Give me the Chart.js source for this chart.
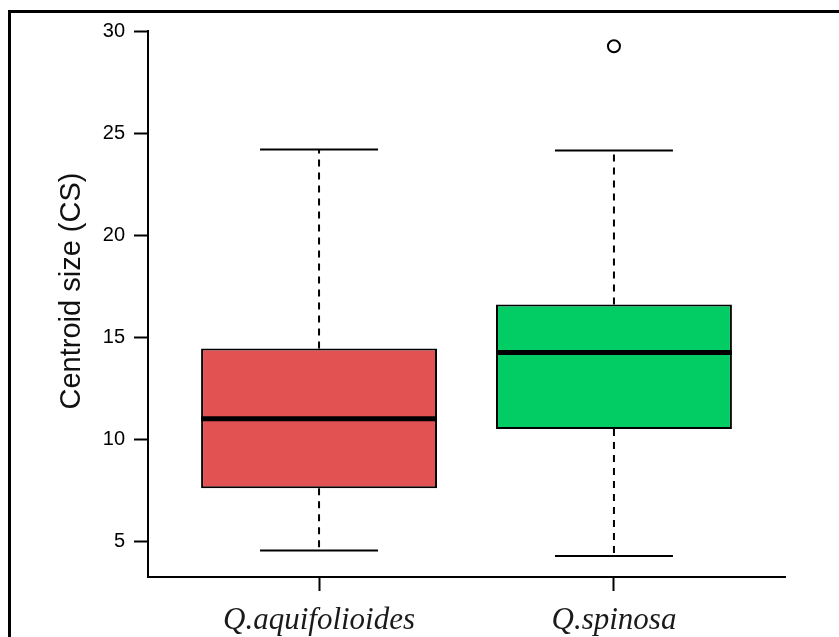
<!DOCTYPE html>
<html>
<head>
<meta charset="utf-8">
<script src="https://cdn.jsdelivr.net/npm/chart.js@4"></script>
<style>
  html, body { margin: 0; padding: 0; background: #fff; }
  #wrap { width: 839px; height: 637px; }
</style>
</head>
<body>
<div id="wrap"><canvas id="myChart" width="839" height="637"></canvas></div>
<script>
// box plot summary per species
const species = ["Q.aquifolioides", "Q.spinosa"];
const positions = [1, 2];
const lowWhisker = [4.55, 4.28];
const q1 = [7.6, 10.5];
const median = [11.0, 14.25];
const q3 = [14.45, 16.6];
const highWhisker = [24.2, 24.15];
const outliers = [{ x: 2, y: 29.25 }];
const boxColors = ["#e35252", "#02cc64"];
const yTicks = [5, 10, 15, 20, 25, 30];

const boxes = positions.map((p, i) => ({ x: p, y: [q1[i], q3[i]] }));

// whiskers, caps and the thick median line
const boxExtras = {
  id: "boxExtras",
  afterDatasetsDraw(chart) {
    const ctx = chart.ctx;
    const xs = chart.scales.x;
    const ys = chart.scales.y;
    ctx.save();
    ctx.strokeStyle = "#000";
    positions.forEach((p, i) => {
      const cx = xs.getPixelForValue(p);
      // dashed whiskers
      ctx.lineWidth = 2;
      ctx.setLineDash([7, 6]);
      ctx.beginPath();
      ctx.moveTo(cx, ys.getPixelForValue(q3[i]));
      ctx.lineTo(cx, ys.getPixelForValue(highWhisker[i]));
      ctx.moveTo(cx, ys.getPixelForValue(q1[i]));
      ctx.lineTo(cx, ys.getPixelForValue(lowWhisker[i]));
      ctx.stroke();
      // caps
      ctx.setLineDash([]);
      ctx.beginPath();
      [highWhisker[i], lowWhisker[i]].forEach((v) => {
        const y = ys.getPixelForValue(v);
        ctx.moveTo(xs.getPixelForValue(p - 0.2), y);
        ctx.lineTo(xs.getPixelForValue(p + 0.2), y);
      });
      ctx.stroke();
      // median
      ctx.lineWidth = 5;
      ctx.beginPath();
      const my = ys.getPixelForValue(median[i]);
      ctx.moveTo(xs.getPixelForValue(p - 0.4), my);
      ctx.lineTo(xs.getPixelForValue(p + 0.4), my);
      ctx.stroke();
    });
    ctx.restore();
  },
};

// outer frame (left and top edges) and the y axis title
const frameAndTitle = {
  id: "frameAndTitle",
  beforeDraw(chart) {
    const ctx = chart.ctx;
    ctx.save();
    ctx.fillStyle = "#000";
    ctx.fillRect(8, 10, 839, 3);
    ctx.fillRect(8, 10, 3, 637);
    ctx.restore();
  },
  afterDraw(chart) {
    const ctx = chart.ctx;
    ctx.save();
    ctx.translate(80, 291);
    ctx.rotate(-Math.PI / 2);
    ctx.fillStyle = "#111";
    ctx.font = "29px 'Liberation Sans', Arial, sans-serif";
    ctx.textAlign = "center";
    ctx.textBaseline = "alphabetic";
    ctx.fillText("Centroid size (CS)", 0, 0);
    ctx.restore();
  },
};

const ctx = document.getElementById("myChart").getContext("2d");

const myChart = new Chart(ctx, {
  type: "bar",
  data: {
    datasets: [
      {
        label: "box",
        data: boxes,
        backgroundColor: boxColors,
        borderColor: "#000",
        borderWidth: 2,
        borderSkipped: false,
        categoryPercentage: 0.8,
        barPercentage: 1,
        order: 2,
      },
      {
        type: "scatter",
        label: "outliers",
        data: outliers,
        pointStyle: "circle",
        pointRadius: 6,
        backgroundColor: "#fff",
        borderColor: "#000",
        borderWidth: 2,
        order: 1,
      },
    ],
  },
  options: {
    responsive: false,
    animation: false,
    layout: {
      padding: { top: 31, right: 54, left: 0, bottom: 0 },
    },
    scales: {
      x: {
        type: "linear",
        min: 0.42,
        max: 2.58,
        offset: false,
        afterFit: (scale) => {
          scale.height = 60;
        },
        afterBuildTicks: (scale) => {
          scale.ticks = positions.map((v) => ({ value: v }));
        },
        border: { color: "#000", width: 2 },
        grid: {
          display: true,
          offset: false,
          drawOnChartArea: false,
          drawTicks: true,
          tickLength: 14,
          tickWidth: 2,
          tickColor: "#000",
        },
        ticks: {
          color: "#1a1a1a",
          padding: 11,
          maxRotation: 0,
          font: { size: 31, style: "italic", family: "'Liberation Serif', 'Times New Roman', serif" },
          callback: function (value) {
            const i = positions.indexOf(value);
            return i >= 0 ? species[i] : "";
          },
        },
      },
      y: {
        type: "linear",
        min: 3.25,
        max: 30,
        afterFit: (scale) => {
          scale.width = 148;
        },
        afterBuildTicks: (scale) => {
          scale.ticks = yTicks.map((v) => ({ value: v }));
        },
        border: { color: "#000", width: 2 },
        grid: {
          display: true,
          drawOnChartArea: false,
          drawTicks: true,
          tickLength: 14,
          tickWidth: 2,
          tickColor: "#000",
        },
        ticks: {
          color: "#000",
          padding: 9,
          font: { size: 20, family: "'Liberation Sans', Arial, sans-serif" },
        },
      },
    },
    plugins: {
      legend: { display: false },
      tooltip: { enabled: false },
    },
  },
  plugins: [boxExtras, frameAndTitle],
});
</script>
</body>
</html>
